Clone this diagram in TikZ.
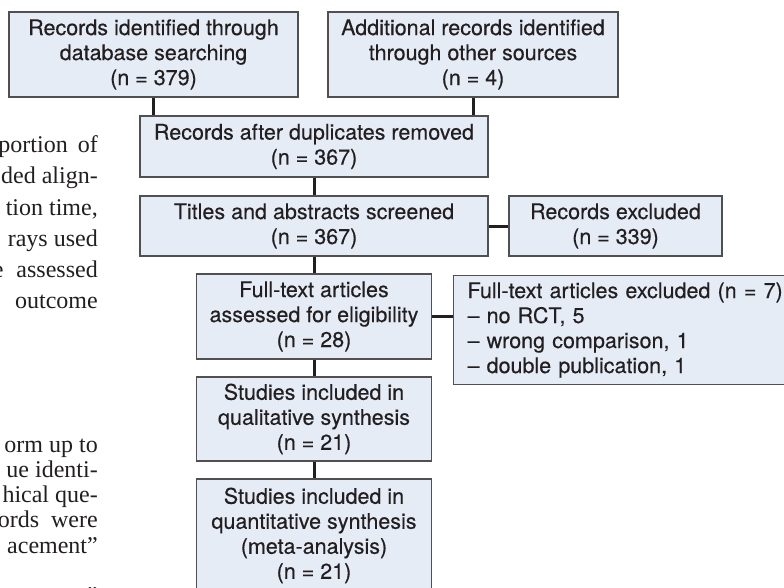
\documentclass[tikz,border=0pt]{standalone}
\usepackage{fontspec}
\setmainfont{Liberation Serif}
\newfontfamily\boxfont[FakeBold=0.3]{TeX Gyre Heros}
\newfontfamily\pagefamily{Liberation Serif}
\newcommand\pagefont{\pagefamily\fontsize{24}{26}\selectfont}
\newcommand\chartfont{\boxfont\fontsize{21.5}{25}\selectfont}

\definecolor{boxfill}{RGB}{229,236,246}
\definecolor{boxline}{RGB}{80,80,80}
\definecolor{ink}{RGB}{35,31,32}

\tikzset{
  box/.style={draw=boxline, fill=boxfill, line width=1.1pt, align=center, inner sep=0pt,
    text=ink, font=\chartfont},
  link/.style={draw=ink, line width=3pt},
  pagetext/.style={anchor=base east, inner sep=0pt, text=ink, font=\pagefont}
}

\begin{document}
\begin{tikzpicture}[x=1pt,y=-1pt]
      \useasboundingbox (0,0) rectangle (784,588);
      \clip (0,0) rectangle (784,588);
      \fill[white] (0,0) rectangle (784,588);
      % page text behind the chart
      \node[pagetext] (p1) at (98,153) {portion\hspace{10pt}of};
      \node[pagetext] (p2) at (98,184) {ded align-};
      \node[pagetext] (p3) at (98,215) {tion time,};
      \node[pagetext] (p4) at (98,246) {rays used};
      \node[pagetext] (p5) at (98,277) {e\hspace{13pt}assessed};
      \node[pagetext] (p6) at (98,308) {outcome};
      \node[pagetext] (q1) at (98,452) {orm up to};
      \node[pagetext] (q2) at (98,477) {ue identi-};
      \node[pagetext] (q3) at (98,502) {hical que-};
      \node[pagetext] (q4) at (98,527) {ords\hspace{12pt}were};
      \node[pagetext] (q5) at (98,553) {acement”};
      \node[pagetext] (q6) at (98,603) {”};
      % flow chart
      \node[box, minimum width=289pt, minimum height=85pt] (ident) at (153.5,54.5) {Records identified through\\database searching\\(n = 379)};
      \node[box, minimum width=290pt, minimum height=85pt] (other) at (473,54.5) {Additional records identified\\through other sources\\(n = 4)};
      \node[box, minimum width=348pt, minimum height=61pt] (dedup) at (314,146.5) {Records after duplicates removed\\(n = 367)};
      \node[box, minimum width=348pt, minimum height=60pt] (screen) at (314,226) {Titles and abstracts screened\\(n = 367)};
      \node[box, minimum width=213pt, minimum height=60pt] (excl) at (615.5,226) {Records excluded\\(n = 339)};
      \node[box, minimum width=235pt, minimum height=85pt] (fulltext) at (314,316.5) {Full-text articles\\assessed for eligibility\\(n = 28)};
      \node[box, align=left, anchor=north west, text width=340pt, inner xsep=14pt, minimum height=109pt] (ftexcl) at (453,275) {Full-text articles excluded (n = 7):\\– no RCT, 5\\– wrong comparison, 1\\– double publication, 1};
      \node[box, minimum width=235pt, minimum height=84pt] (qual) at (314,419) {Studies included in\\qualitative synthesis\\(n = 21)};
      \node[box, minimum width=235pt, minimum height=113pt] (quant) at (314,535.5) {Studies included in\\quantitative synthesis\\(meta-analysis)\\(n = 21)};
      \draw[link] (ident.south) -- (ident.south |- dedup.north);
      \draw[link] (other.south) -- (other.south |- dedup.north);
      \draw[link] (dedup) -- (screen);
      \draw[link] (screen) -- (excl);
      \draw[link] (screen) -- (fulltext);
      \draw[link] (fulltext.east) -- (fulltext.east -| ftexcl.west);
      \draw[link] (fulltext) -- (qual);
      \draw[link] (qual) -- (quant);
    \end{tikzpicture}
\end{document}
